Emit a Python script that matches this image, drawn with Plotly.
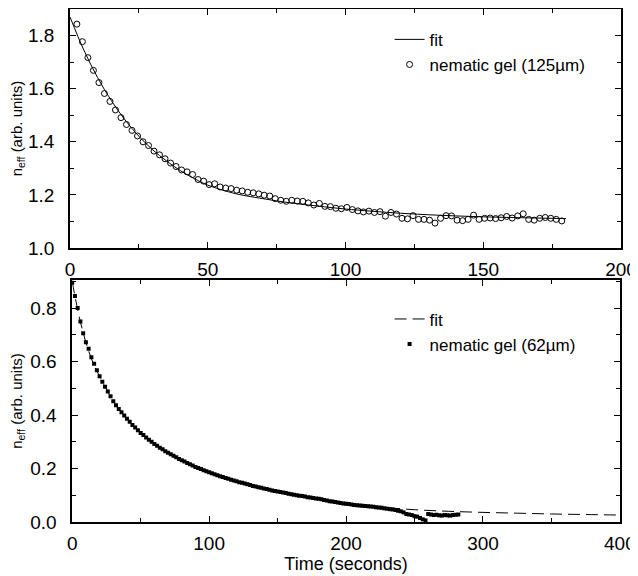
import plotly.graph_objects as go

# top panel: 125 um nematic gel
t_125 = [2.5, 4.5, 6.5, 8.5, 10.5, 12.5, 14.5, 16.5, 18.5, 20.5,
         22.5, 24.5, 26.5, 28.5, 30.5, 32.5, 34.5, 36.5, 38.5, 40.5,
         42.5, 44.5, 46.5, 48.5, 50.5, 52.5, 54.5, 56.5, 58.5, 60.5,
         62.5, 64.5, 66.5, 68.5, 70.5, 72.5, 74.5, 76.5, 78.5, 80.5,
         82.5, 84.5, 86.5, 88.5, 90.5, 92.5, 94.5, 96.5, 98.5, 100.5,
         102.5, 104.5, 106.5, 108.5, 110.5, 112.5, 114.5, 116.5, 118.5, 120.5,
         122.5, 124.5, 126.5, 128.5, 130.5, 132.5, 134.5, 136.5, 138.5, 140.5,
         142.5, 144.5, 146.5, 148.5, 150.5, 152.5, 154.5, 156.5, 158.5, 160.5,
         162.5, 164.5, 166.5, 168.5, 170.5, 172.5, 174.5, 176.5, 178.5]
n_125 = [1.843, 1.777, 1.717, 1.669, 1.623, 1.582, 1.552, 1.520, 1.491, 1.465,
         1.443, 1.422, 1.400, 1.386, 1.365, 1.351, 1.336, 1.320, 1.307, 1.294,
         1.287, 1.277, 1.258, 1.252, 1.239, 1.242, 1.230, 1.226, 1.224, 1.218,
         1.215, 1.210, 1.208, 1.204, 1.199, 1.196, 1.186, 1.180, 1.176, 1.180,
         1.177, 1.176, 1.170, 1.162, 1.168, 1.157, 1.156, 1.150, 1.148, 1.153,
         1.145, 1.140, 1.136, 1.139, 1.134, 1.137, 1.120, 1.134, 1.128, 1.112,
         1.110, 1.122, 1.108, 1.108, 1.105, 1.094, 1.112, 1.122, 1.121, 1.105,
         1.103, 1.108, 1.124, 1.108, 1.112, 1.113, 1.111, 1.114, 1.119, 1.113,
         1.121, 1.129, 1.108, 1.105, 1.112, 1.115, 1.112, 1.108, 1.102]
t_fit_125 = [0, 5, 10, 15, 20, 25, 30, 35, 40, 45, 50, 60, 70, 80, 90, 100, 120, 140, 160, 180]
n_fit_125 = [1.870, 1.746, 1.642, 1.555, 1.482, 1.421, 1.370, 1.328, 1.292, 1.262,
             1.237, 1.205, 1.186, 1.170, 1.158, 1.147, 1.131, 1.121, 1.115, 1.111]

# bottom panel: 62 um nematic gel
t_62 = list(range(0, 284, 2))
n_62 = [0.895, 0.845, 0.800, 0.750, 0.706, 0.672, 0.648, 0.616, 0.592, 0.568,
        0.545, 0.525, 0.506, 0.488, 0.470, 0.452, 0.437, 0.423, 0.410, 0.398,
        0.386, 0.375, 0.363, 0.353, 0.343, 0.333, 0.325, 0.316, 0.308, 0.300,
        0.292, 0.285, 0.278, 0.272, 0.265, 0.259, 0.253, 0.248, 0.242, 0.236,
        0.231, 0.226, 0.221, 0.216, 0.211, 0.206, 0.202, 0.198, 0.194, 0.190,
        0.186, 0.182, 0.179, 0.175, 0.171, 0.168, 0.165, 0.162, 0.158, 0.155,
        0.152, 0.149, 0.147, 0.144, 0.141, 0.138, 0.135, 0.133, 0.130, 0.128,
        0.125, 0.123, 0.121, 0.118, 0.116, 0.114, 0.112, 0.110, 0.108, 0.106,
        0.104, 0.102, 0.100, 0.098, 0.097, 0.095, 0.093, 0.092, 0.090, 0.088,
        0.087, 0.085, 0.082, 0.080, 0.078, 0.077, 0.075, 0.073, 0.071, 0.069,
        0.068, 0.067, 0.065, 0.064, 0.063, 0.062, 0.061, 0.060, 0.059, 0.058,
        0.057, 0.055, 0.054, 0.053, 0.051, 0.050, 0.048, 0.047, 0.045, 0.042,
        0.040, 0.036, 0.030, 0.028, 0.026, 0.022, 0.020, 0.015, 0.010, 0.006,
        0.030, 0.028, 0.026, 0.027, 0.025, 0.024, 0.026, 0.025, 0.024, 0.026,
        0.027, 0.028]
t_fit_62 = [0, 5, 10, 15, 20, 30, 40, 50, 60, 80, 100, 125, 150, 175, 200,
            225, 250, 275, 300, 325, 350, 375, 400]
n_fit_62 = [0.900, 0.770, 0.672, 0.598, 0.545, 0.452, 0.386, 0.333, 0.292, 0.231,
            0.186, 0.145, 0.114, 0.091, 0.070, 0.056, 0.046, 0.040, 0.036, 0.033,
            0.030, 0.028, 0.026]

FONT = "Liberation Sans, Arial, sans-serif"

fig = go.Figure()
fig.add_trace(go.Scatter(x=t_fit_125, y=n_fit_125, mode="lines", name="fit",
                         line=dict(color="black", width=1, shape="spline"),
                         xaxis="x", yaxis="y", legend="legend"))
fig.add_trace(go.Scatter(x=t_125, y=n_125, mode="markers", name="nematic gel (125µm)",
                         marker=dict(symbol="circle-open", size=6, color="black",
                                     line=dict(width=1)),
                         xaxis="x", yaxis="y", legend="legend"))
fig.add_trace(go.Scatter(x=t_fit_62, y=n_fit_62, mode="lines", name="fit",
                         line=dict(color="black", width=1, dash="12px,6px", shape="spline"),
                         xaxis="x2", yaxis="y2", legend="legend2"))
fig.add_trace(go.Scatter(x=t_62, y=n_62, mode="markers", name="nematic gel (62µm)",
                         marker=dict(symbol="square", size=4, color="black"),
                         xaxis="x2", yaxis="y2", legend="legend2"))

axis_style = dict(showline=True, linecolor="black", linewidth=1.5, mirror="allticks",
                  ticks="inside", ticklen=6, tickcolor="black", tickwidth=1,
                  showgrid=False, zeroline=False, automargin=False,
                  tickfont=dict(family=FONT, size=19, color="black"))
minor_style = dict(ticks="inside", ticklen=4, tickcolor="black")
title_font = dict(family=FONT, size=15, color="black")

# page body has an 8px margin, so the figure is 8px smaller than the window
fig.update_layout(
    width=630, height=568,
    margin=dict(l=62, r=17, t=1, b=54),
    plot_bgcolor="white", paper_bgcolor="white",
    font=dict(family=FONT, color="black"),
    xaxis=dict(domain=[0, 1], anchor="y", range=[0, 200], dtick=50,
               minor=dict(dtick=25, **minor_style),
               ticklabelstandoff=3, **axis_style),
    yaxis=dict(domain=[0.534, 1], anchor="x", range=[1.0, 1.9], dtick=0.2,
               tickformat=".1f", minor=dict(dtick=0.1, **minor_style),
               ticklabelstandoff=10,
               title=dict(text="n<sub>eff</sub> (arb. units)", standoff=6, font=title_font),
               **axis_style),
    xaxis2=dict(domain=[0.004, 0.998], anchor="y2", range=[0, 400], dtick=100,
                minor=dict(dtick=50, **minor_style),
                ticklabelstandoff=3,
                title=dict(text="Time (seconds)", standoff=2, font=dict(family=FONT, size=18)),
                **axis_style),
    yaxis2=dict(domain=[0, 0.4717], anchor="x2", range=[0, 0.905], dtick=0.2,
                tickformat=".1f", minor=dict(dtick=0.1, **minor_style),
                ticklabelstandoff=10,
                title=dict(text="n<sub>eff</sub> (arb. units)", standoff=6, font=title_font),
                **axis_style),
    legend=dict(x=0.58, y=0.975, xanchor="left", yanchor="top",
                bgcolor="rgba(0,0,0,0)", borderwidth=0, tracegroupgap=0,
                font=dict(family=FONT, size=17, color="black")),
    legend2=dict(x=0.58, y=0.43, xanchor="left", yanchor="top",
                 bgcolor="rgba(0,0,0,0)", borderwidth=0, tracegroupgap=0,
                 font=dict(family=FONT, size=17, color="black")),
)

fig.write_html("out.html")
